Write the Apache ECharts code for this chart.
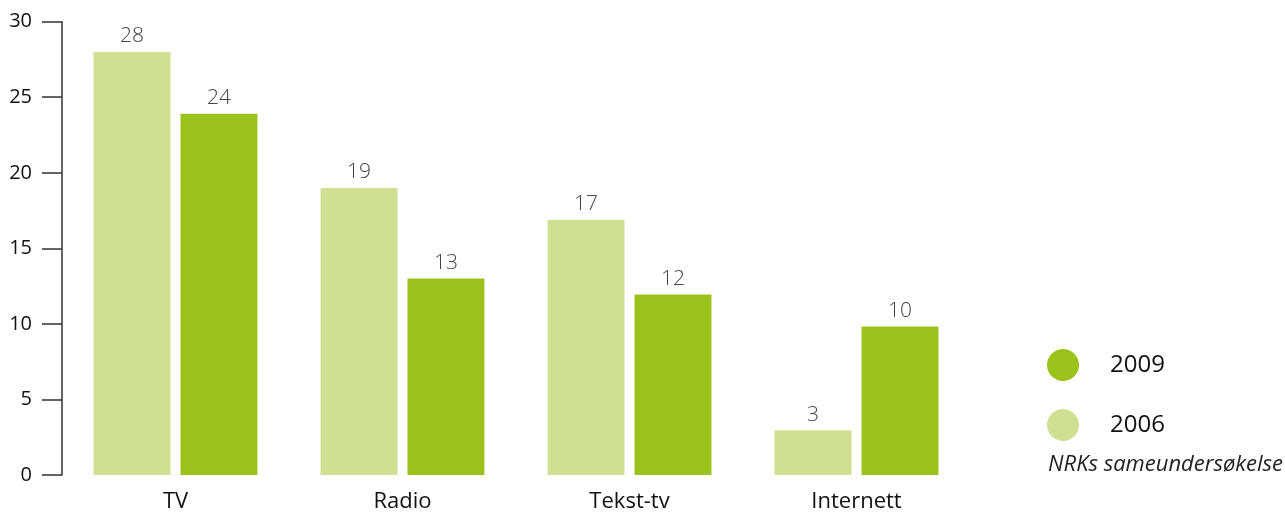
<!DOCTYPE html>
<html><head><meta charset="utf-8">
<script src="https://cdn.jsdelivr.net/npm/echarts@6/dist/echarts.min.js"></script>
<style>html,body{margin:0;padding:0;background:#fff}#c{width:1285px;height:513px}</style>
</head><body><div id="c"></div>
<script>
const categories = ['TV', 'Radio', 'Tekst-tv', 'Internett'];
const values2006 = [28, 19, 16.9, 2.96];
const values2009 = [23.9, 13, 11.94, 9.83];
const yTicks = [0, 5, 10, 15, 20, 25, 30];
const sourceText = 'NRKs sameundersøkelse';

const FONT = '"Open Sans", "DejaVu Sans", sans-serif';
const chart = echarts.init(document.getElementById('c'));
const labelStyle = {
  show: true, position: 'top', distance: 5,
  color: '#444', fontSize: 21, fontFamily: FONT, fontWeight: 300,
  formatter: p => Math.round(p.value)
};
chart.setOption({
  animation: false,
  grid: { left: 62, right: 315, top: 21.7, bottom: 37.3, containLabel: false },
  legend: {
    data: ['2009', '2006'], orient: 'vertical', left: 1042, top: 344,
    icon: 'circle', itemWidth: 32, itemHeight: 32, itemGap: 28,
    textStyle: { fontSize: 24, fontFamily: FONT, color: '#111', padding: [0, 0, 0, 26] }
  },
  graphic: [{
    type: 'text', right: 2, top: 454,
    style: { text: sourceText, font: 'italic 22px ' + FONT, fill: '#222' }
  }],
  xAxis: {
    type: 'category', data: categories,
    axisLine: { show: false }, axisTick: { show: false },
    axisLabel: { fontSize: 22, fontFamily: FONT, color: '#111', margin: 16 }
  },
  yAxis: {
    type: 'value', min: 0, max: 30, interval: 5,
    splitLine: { show: false },
    axisLine: { show: true, lineStyle: { color: '#333', width: 1.5 } },
    axisTick: { show: true, length: 20, lineStyle: { color: '#333', width: 1.5 } },
    axisLabel: { fontSize: 20, fontFamily: FONT, color: '#111', margin: 30,
      formatter: v => yTicks.includes(v) ? String(v) : '' }
  },
  series: [
    { name: '2006', type: 'bar', data: values2006, barGap: '13%', barCategoryGap: '27.8%',
      itemStyle: { color: '#d0e092' }, label: labelStyle },
    { name: '2009', type: 'bar', data: values2009,
      itemStyle: { color: '#9cc21c' }, label: labelStyle }
  ]
});
</script></body></html>
